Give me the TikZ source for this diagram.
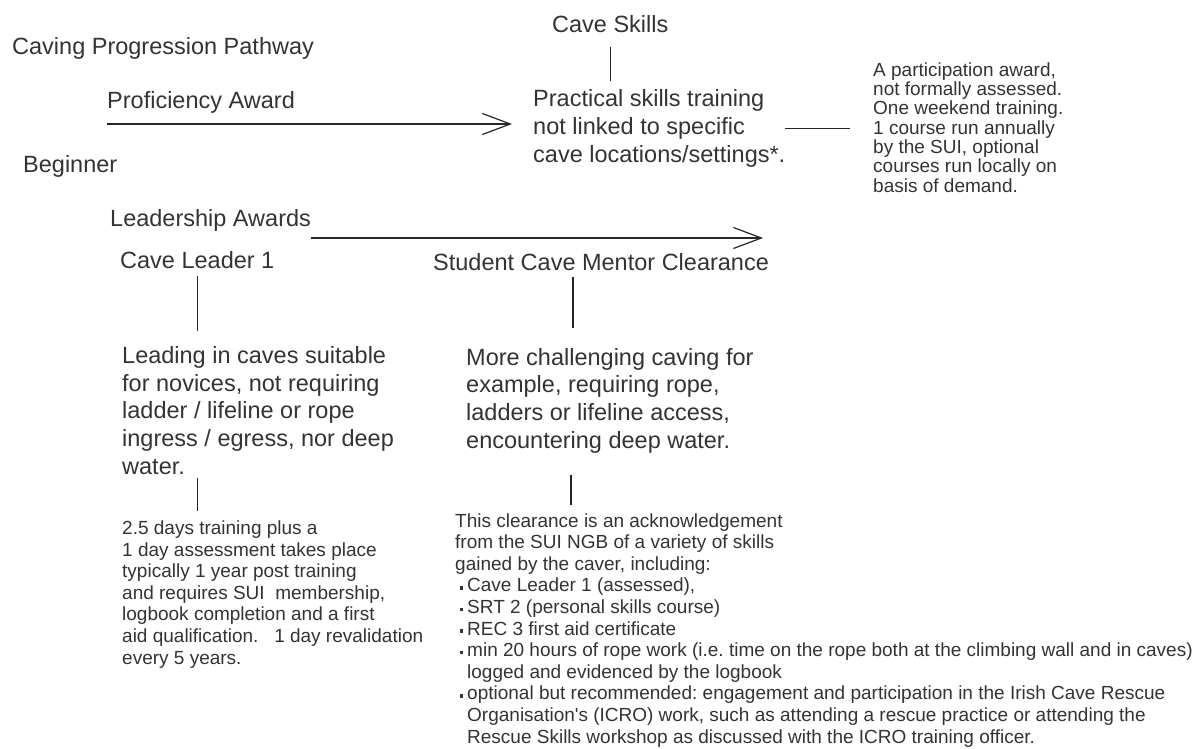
\documentclass[tikz,border=0pt]{standalone}
\usepackage{fontspec}
\setmainfont{Liberation Sans}
\usetikzlibrary{arrows.meta}
\newcommand{\sqbul}{\makebox[12pt][l]{\hspace{4.5pt}\rule[2.3pt]{3.3pt}{3.3pt}}}
\newcommand{\bulind}{\hspace*{12pt}}
\frenchspacing

\begin{document}
\begin{tikzpicture}[x = 1pt, y = -1pt]
	\tikzstyle{every node} = [inner sep = 0, anchor = base west, text = black!80, align = left]
	\tikzstyle{big} = [font = \fontsize{23.5}{27.6}\selectfont]
	\tikzstyle{small} = [font = \fontsize{19}{21.6}\selectfont]
	\tikzstyle{tight} = [font = \fontsize{19}{19.3}\selectfont]
	\tikzstyle{link} = [black!85, line width = 1.2pt]
	\tikzstyle{pointer} = [link, -{Straight Barb[length = 28pt, width = 21pt]}]
	\useasboundingbox (0,0) rectangle (1194,749);

	% base of a node = baseline of its last line
	\node [big] (pathway) at (12,55) {Caving Progression Pathway};
	\node [big] (prof) at (107,109) {Proficiency Award};
	\node [big] (beginner) at (23,172) {Beginner};
	\node [big] (skills) at (552,33) {Cave Skills};
	\node [big] (practical) at (533,162) {Practical skills training\\not linked to specific\\cave locations/settings*.};
	\node [tight] (partic) at (873,192) {A participation award,\\not formally assessed.\\One weekend training.\\1 course run annually\\by the SUI, optional\\courses run locally on\\basis of demand.};

	\node [big] (lead) at (110,226) {Leadership Awards};
	\node [big] (cl1) at (120,268) {Cave Leader 1};
	\node [big] (scm) at (433,270) {Student Cave Mentor Clearance};
	\node [big] (leading) at (122,474) {Leading in caves suitable\\for novices, not requiring\\ladder / lifeline or rope\\ingress / egress, nor deep\\water.};
	\node [big] (more) at (466,448) {More challenging caving for\\example, requiring rope,\\ladders or lifeline access,\\encountering deep water.};

	\node [small] (days) at (122,664) {2.5 days training plus a\\1 day assessment takes place\\typically 1 year post training\\and requires SUI\ \ membership,\\logbook completion and a first\\aid qualification.\ \ \ 1 day revalidation\\every 5 years.};
	\node [small] (clear) at (455,743) {This clearance is an acknowledgement\\from the SUI NGB of a variety of skills\\gained by the caver, including:\\
		\sqbul Cave Leader 1 (assessed),\\
		\sqbul SRT 2 (personal skills course)\\
		\sqbul REC 3 first aid certificate\\
		\sqbul min 20 hours of rope work (i.e. time on the rope both at the climbing wall and in caves)\\
		\bulind logged and evidenced by the logbook\\
		\sqbul optional but recommended: engagement and participation in the Irish Cave Rescue\\
		\bulind Organisation\textquotesingle s (ICRO) work, such as attending a rescue practice or attending the\\
		\bulind Rescue Skills workshop as discussed with the ICRO training officer.};

	\draw [pointer] ([yshift = -15pt]prof.base west) -- ([xshift = -21pt, yshift = -15pt]practical.west |- prof.base west); %proficiency
	\draw [link] ([yshift = -14pt]skills.base) -- ([yshift = 9pt]skills.base |- practical.north);
	\draw [link] ([xshift = -1pt]practical.east) -- ([xshift = -23pt]partic.west |- practical.east);
	\draw [pointer] ([yshift = -12pt]lead.base east) -- ([xshift = -6pt, yshift = 32pt]scm.base east); %leadership
	\draw [link] ([yshift = -8pt]cl1.base) -- ([yshift = 15pt]cl1.base |- leading.north);
	\draw [link] ([yshift = -4pt]leading.south -| cl1.base) -- ([yshift = 9pt]days.north -| cl1.base);
	\draw [link] ([xshift = -28pt, yshift = -7pt]scm.base) -- ([xshift = -28pt, yshift = 20pt]scm.base |- more.north);
	\draw [link] ([xshift = -30pt, yshift = -22pt]scm.base |- more.south) -- ([xshift = -30pt, yshift = 8pt]scm.base |- clear.north);
\end{tikzpicture}
\end{document}
